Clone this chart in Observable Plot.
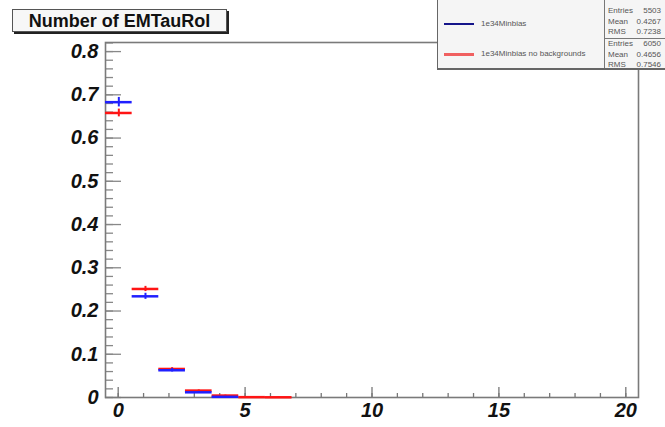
<!DOCTYPE html>
<html><head><meta charset="utf-8">
<script src="https://cdn.jsdelivr.net/npm/d3@7"></script>
<script src="https://cdn.jsdelivr.net/npm/@observablehq/plot@0.6"></script>
<style>
body{margin:0;background:#fff;}
#wrap{position:relative;width:665px;height:427px;overflow:hidden;font-family:"Liberation Sans",Arial,sans-serif;}
#chart svg{display:block;}
#chart [aria-label="y-axis tick label"], #chart [aria-label="x-axis tick label"]{font:italic bold 20px "Liberation Sans",Arial,sans-serif;fill:#111;}
#title{position:absolute;left:12px;top:9px;width:213px;height:21px;border:1px solid #555;box-shadow:2px 2px 0 #222;background:#f7f7f7;font-weight:bold;font-size:18px;line-height:22px;text-align:center;color:#111;white-space:nowrap;}
#legend{position:absolute;left:437px;top:-3px;width:250px;height:70px;border:1px solid #666;box-shadow:0 1px 0 #666;background:#f5f5f5;}
.lg{position:absolute;font-size:8px;color:#555;white-space:nowrap;line-height:10px;}
.ln{position:absolute;height:2px;}
#divv{position:absolute;left:166px;top:0;width:1px;height:70px;background:#777;}
#divh{position:absolute;left:166px;top:40px;width:90px;height:1px;background:#777;}
.st{position:absolute;font-size:8px;color:#555;white-space:nowrap;line-height:10px;}
.sv{position:absolute;font-size:8px;color:#555;white-space:nowrap;line-height:10px;text-align:right;width:50px;}
</style></head>
<body>
<div id="wrap">
  <div id="chart"></div>
  <div id="title"></div>
  <div id="legend"></div>
</div>
<script>
// ---- data ----
const titleText = "Number of EMTauRol";
const binLow = -0.5, binHigh = 20.5, nBins = 20;
const seriesNames = ["1e34Minbias", "1e34Minbias no backgrounds"];
const blueValues = [0.683, 0.234, 0.063, 0.012, 0.0015];
const blueErrors = [0.011, 0.007, 0.004, 0.002, 0.001];
const redValues  = [0.658, 0.251, 0.066, 0.016, 0.0045, 0.0008, 0.0005];
const redErrors  = [0.009, 0.006, 0.003, 0.0015, 0.001, 0.0005, 0.0004];
const statLabels = ["Entries", "Mean", "RMS"];
const blueStats = ["5503", "0.4267", "0.7238"];
const redStats  = ["6050", "0.4656", "0.7546"];
const xTicks = [0, 5, 10, 15, 20];
const xTickLabels = ["0", "5", "10", "15", "20"];
const yTicks = [0, 0.1, 0.2, 0.3, 0.4, 0.5, 0.6, 0.7, 0.8];
const yTickLabels = ["0", "0.1", "0.2", "0.3", "0.4", "0.5", "0.6", "0.7", "0.8"];
const blueColor = "#2020ff", redColor = "#ff1414";

const binW = (binHigh - binLow) / nBins;
const toRows = (vals, errs) => vals.map((v, i) => ({
  x1: binLow + i * binW, x2: binLow + (i + 1) * binW, xc: binLow + (i + 0.5) * binW, y: v, e: errs[i]
}));
const blue = toRows(blueValues, blueErrors);
const red = toRows(redValues, redErrors);
const xMinor = d3.range(0, 21);
const yMinor = d3.range(0, 42).map(i => i / 50);

const chart = Plot.plot({
  width: 665, height: 427,
  marginLeft: 105, marginRight: 27, marginTop: 42, marginBottom: 30,
  x: {domain: [binLow, binHigh], label: null},
  y: {domain: [0, 0.821], label: null},
  marks: [
    Plot.axisY(yMinor, {tickSize: -8, text: null, stroke: "#888", strokeWidth: 1.3, label: null}),
    Plot.axisY(yTicks, {tickSize: -16, text: null, stroke: "#888", strokeWidth: 1.3, label: null}),
    Plot.axisY(yTicks, {tickSize: 0, tickPadding: 7, label: null, tickFormat: d => yTickLabels[yTicks.indexOf(d)]}),
    Plot.axisX(xMinor, {tickSize: -4, text: null, stroke: "#777", strokeWidth: 1.3, label: null}),
    Plot.axisX(xTicks, {tickSize: -10, text: null, stroke: "#777", strokeWidth: 1.3, label: null}),
    Plot.axisX(xTicks, {tickSize: 0, tickPadding: 5, label: null, tickFormat: d => xTickLabels[xTicks.indexOf(d)]}),
    Plot.frame({stroke: "#7a7a7a", strokeWidth: 1.6}),
    Plot.ruleY(red, {y: "y", x1: "x1", x2: "x2", stroke: redColor, strokeWidth: 2.5}),
    Plot.ruleX(red, {x: "xc", y1: d => d.y - d.e, y2: d => d.y + d.e, stroke: redColor, strokeWidth: 2}),
    Plot.ruleY(blue, {y: "y", x1: "x1", x2: "x2", stroke: blueColor, strokeWidth: 2.5}),
    Plot.ruleX(blue, {x: "xc", y1: d => d.y - d.e, y2: d => d.y + d.e, stroke: blueColor, strokeWidth: 2})
  ]
});
document.getElementById("chart").appendChild(chart);
document.getElementById("title").textContent = titleText;

// legend + stats box
const lg = document.getElementById("legend");
const add = (cls, css, txt) => { const e = document.createElement("div"); e.className = cls; e.style.cssText = css; if (txt) e.textContent = txt; lg.appendChild(e); };
const lineColors = ["#15158a", "#f06060"];
[26, 56].forEach((top, i) => {
  add("ln", `left:6px;top:${top - 1}px;width:30px;background:${lineColors[i]};height:${i ? 2.5 : 2}px`);
  add("lg", `left:43px;top:${top - 5}px`, seriesNames[i]);
});
add("", "", ""); lg.lastChild.id = "divv";
add("", "", ""); lg.lastChild.id = "divh";
[[8, blueStats], [41, redStats]].forEach(([top0, vals]) => {
  statLabels.forEach((s, j) => {
    add("st", `left:170px;top:${top0 + j * 10.5}px`, s);
    add("sv", `left:173px;top:${top0 + j * 10.5}px`, vals[j]);
  });
});
</script>
</body></html>
